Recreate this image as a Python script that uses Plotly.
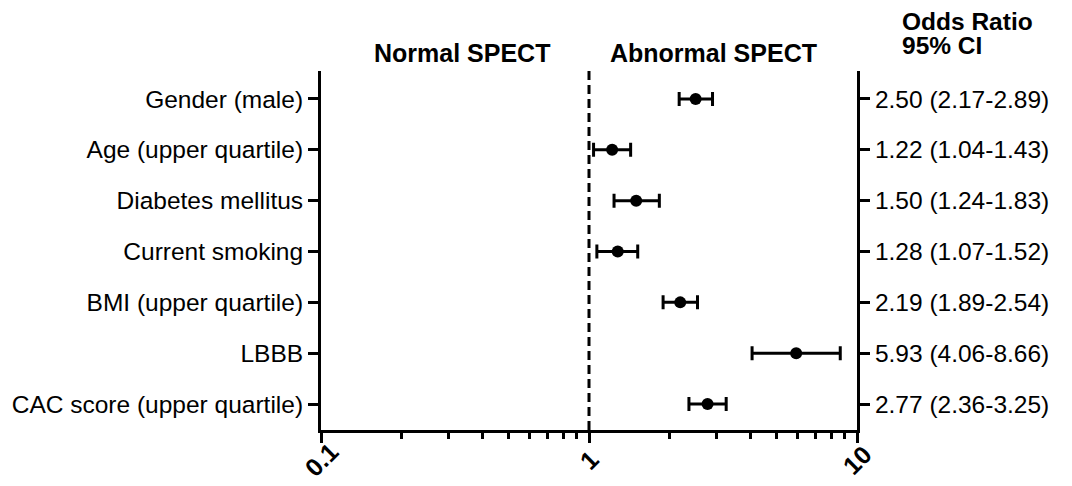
import math
import plotly.graph_objects as go

categories = ["Gender (male)", "Age (upper quartile)", "Diabetes mellitus",
              "Current smoking", "BMI (upper quartile)", "LBBB", "CAC score (upper quartile)"]
odds_ratio = [2.50, 1.22, 1.50, 1.28, 2.19, 5.93, 2.77]
ci_low = [2.17, 1.04, 1.24, 1.07, 1.89, 4.06, 2.36]
ci_high = [2.89, 1.43, 1.83, 1.52, 2.54, 8.66, 3.25]
right_labels = ["%.2f (%.2f-%.2f)" % (o, l, h) for o, l, h in zip(odds_ratio, ci_low, ci_high)]
x_ticks = [0.1, 1, 10]
x_tick_text = ["0.1", "1", "10"]
x_minor = [0.2, 0.3, 0.4, 0.5, 0.6, 0.7, 0.8, 0.9, 2, 3, 4, 5, 6, 7, 8, 9]

ypos = list(range(len(categories)))
FONT = "Liberation Sans, Arial, sans-serif"
LBL = 24.5

fig = go.Figure()
fig.add_trace(go.Scatter(
    x=odds_ratio, y=ypos, mode="markers",
    marker=dict(color="black", size=12, symbol="circle"),
    error_x=dict(type="data", symmetric=False,
                 array=[h - o for h, o in zip(ci_high, odds_ratio)],
                 arrayminus=[o - l for o, l in zip(odds_ratio, ci_low)],
                 color="black", thickness=3, width=7),
    showlegend=False, hoverinfo="skip",
))
fig.add_trace(go.Scatter(x=odds_ratio, y=ypos, yaxis="y2", mode="markers",
                         marker=dict(opacity=0), showlegend=False, hoverinfo="skip"))

fig.add_shape(type="line", xref="x", yref="paper", x0=1, x1=1, y0=0, y1=1,
              line=dict(color="black", width=3, dash="9px,5px"))

yr = [6.51, -0.55]
common_y = dict(range=yr, tickvals=ypos, ticks="outside", ticklen=10, tickwidth=3,
                tickcolor="black", showline=True, linewidth=3, linecolor="black",
                showgrid=False, zeroline=False, automargin=False,
                tickfont=dict(size=LBL, family=FONT, color="black"))
fig.update_layout(
    width=1072, height=486,
    margin=dict(l=313, r=223, t=63, b=64),
    plot_bgcolor="white", paper_bgcolor="white",
    font=dict(family=FONT, color="black", size=LBL),
    xaxis=dict(type="log", range=[-1, 1], tickvals=x_ticks, showticklabels=False,
               ticks="outside", ticklen=10, tickwidth=3, tickcolor="black",
               showline=True, linewidth=3, linecolor="black",
               showgrid=False, zeroline=False, automargin=False,
               minor=dict(tickvals=x_minor, ticks="outside", ticklen=6,
                          tickwidth=3, tickcolor="black", showgrid=False)),
    yaxis=dict(ticktext=categories, **common_y),
    yaxis2=dict(ticktext=right_labels, overlaying="y", side="right", anchor="x", **common_y),
)

# rotated x tick labels, centred under each tick (log axis: annotation x in log10 units)
for v, t in zip(x_ticks, x_tick_text):
    fig.add_annotation(text=t, xref="x", yref="paper", x=math.log10(v), y=-0.083,
                       textangle=-45, showarrow=False,
                       font=dict(size=25, weight="bold"),
                       xanchor="center", yanchor="middle")

hdr = dict(size=25, weight="bold")
fig.add_annotation(text="Normal SPECT", xref="paper", yref="paper",
                   x=0.263, y=1.05, showarrow=False, font=hdr,
                   xanchor="center", yanchor="middle")
fig.add_annotation(text="Abnormal SPECT", xref="paper", yref="paper",
                   x=0.733, y=1.05, showarrow=False, font=hdr,
                   xanchor="center", yanchor="middle")
fig.add_annotation(text="Odds Ratio", xref="paper", yref="paper",
                   x=1.083, y=1.139, showarrow=False, font=dict(size=24.5, weight="bold"),
                   xanchor="left", yanchor="middle", align="left", borderpad=0)
fig.add_annotation(text="95% CI", xref="paper", yref="paper",
                   x=1.083, y=1.071, showarrow=False, font=dict(size=24.5, weight="bold"),
                   xanchor="left", yanchor="middle", align="left", borderpad=0)

fig.write_html("out.html")
